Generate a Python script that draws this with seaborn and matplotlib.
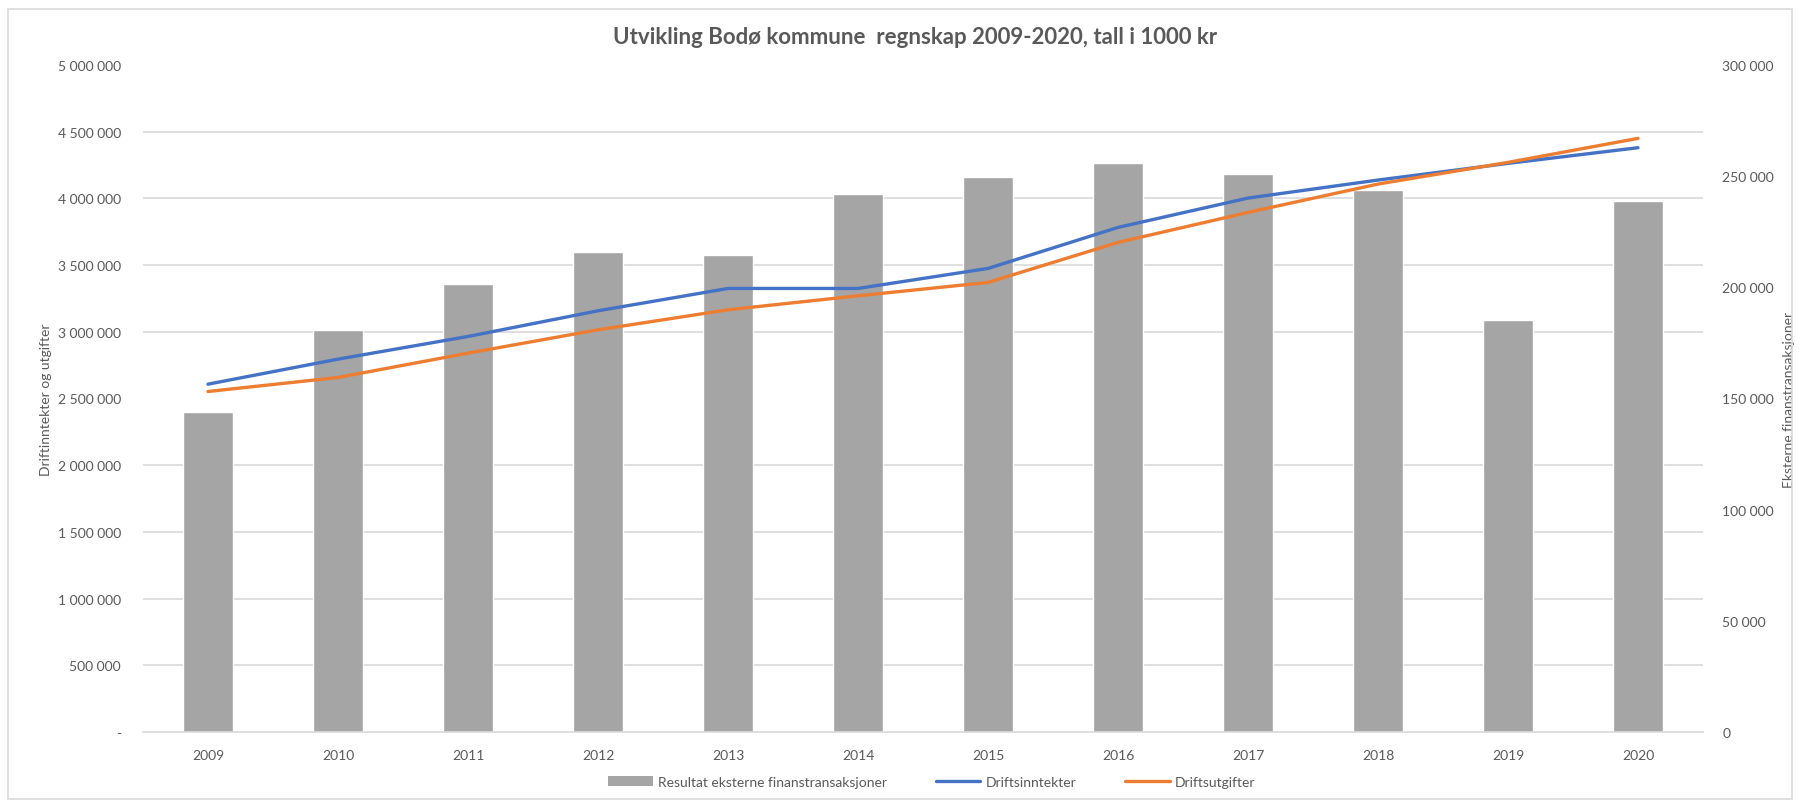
import numpy as np
import pandas as pd
import matplotlib
matplotlib.use("Agg")
import matplotlib.pyplot as plt
import seaborn as sns
from matplotlib.patches import Patch, Rectangle
from matplotlib.lines import Line2D
from matplotlib.ticker import FuncFormatter, MultipleLocator

years = ["2009", "2010", "2011", "2012", "2013", "2014", "2015", "2016", "2017", "2018", "2019", "2020"]
finans = [143800, 180900, 201500, 215900, 214400, 242100, 249800, 255800, 251000, 243900, 185400, 239000]
driftsinntekter = [2607500, 2795000, 2965000, 3157500, 3325000, 3325000, 3475000, 3782500, 4002500, 4137500, 4262500, 4380000]
driftsutgifter = [2552500, 2657500, 2840000, 3015000, 3165000, 3270000, 3370000, 3670000, 3895000, 4107500, 4270000, 4450000]

title = "Utvikling Bodø kommune  regnskap 2009-2020, tall i 1000 kr"
left_label = "Driftinntekter og utgifter"
right_label = "Eksterne finanstransaksjoner"
legend_labels = ["Resultat eksterne finanstransaksjoner", "Driftsinntekter", "Driftsutgifter"]

GRAY = "#A5A5A5"
BLUE = "#4472C4"
ORANGE = "#ED7D31"
TXT = "#595959"
GRID = "#D9D9D9"

sns.set_theme(style="white")
plt.rcParams["font.family"] = ["Lato", "DejaVu Sans"]

fig = plt.figure(figsize=(18, 8.04), dpi=100)
ax = fig.add_axes([143 / 1800, 71 / 804, 1560 / 1800, 667 / 804])

df = pd.DataFrame({"year": years, "finans": finans,
                   "inn": driftsinntekter, "ut": driftsutgifter})
df["pos"] = np.arange(len(years))

# bars on primary axis (drawn below), right-side scale
sns.barplot(data=df, x="year", y="finans", color=GRAY, saturation=1, width=0.39, ax=ax, zorder=2)

# lines on twin axis (drawn on top), left-side scale
ax2 = ax.twinx()
sns.lineplot(data=df, x="pos", y="inn", color=BLUE, linewidth=2.4, ax=ax2)
sns.lineplot(data=df, x="pos", y="ut", color=ORANGE, linewidth=2.4, ax=ax2)

# primary axis styling (right scale)
ax.set_ylim(0, 300000)
ax.set_xlim(-0.5, len(years) - 0.5)
ax.yaxis.tick_right()
ax.yaxis.set_label_position("right")
ax.yaxis.set_major_locator(MultipleLocator(50000))
ax.yaxis.set_minor_locator(MultipleLocator(30000))
ax.yaxis.set_major_formatter(FuncFormatter(lambda v, p: f"{int(v):,}".replace(",", " ")))
ax.grid(False)
ax.grid(True, which="minor", axis="y", color=GRID, linewidth=1.2, zorder=0)
ax.set_axisbelow(True)
ax.tick_params(axis="y", which="both", length=0, pad=14, labelsize=10, labelcolor=TXT,
               left=False, labelleft=False, right=True, labelright=True)
ax.tick_params(axis="x", length=0, pad=12, labelsize=10, labelcolor=TXT)
ax.set_xlabel("")
ax.set_ylabel(right_label, color=TXT, fontsize=10, labelpad=6, rotation=90)
for s in ["top", "left", "right"]:
    ax.spines[s].set_visible(False)
ax.spines["bottom"].set_color(GRID)
ax.spines["bottom"].set_linewidth(1.2)

# twin axis styling (left scale)
ax2.set_ylim(0, 5000000)
ax2.set_xlim(-0.5, len(years) - 0.5)
ax2.yaxis.tick_left()
ax2.yaxis.set_label_position("left")
ax2.yaxis.set_major_locator(MultipleLocator(500000))
ax2.yaxis.set_major_formatter(FuncFormatter(lambda v, p: "-" if v == 0 else f"{int(v):,}".replace(",", " ")))
ax2.grid(False)
ax2.tick_params(axis="y", length=0, pad=16, labelsize=10, labelcolor=TXT,
                left=True, labelleft=True, right=False, labelright=False)
ax2.set_ylabel(left_label, color=TXT, fontsize=10, labelpad=4)
ax2.set_xlabel("")
for s in ax2.spines.values():
    s.set_visible(False)

fig.text(915 / 1800, 1 - 37 / 804, title, ha="center", va="center",
         fontsize=16, fontweight="bold", color=TXT)

handles = [Patch(facecolor=GRAY, edgecolor="none"),
           Line2D([0], [0], color=BLUE, linewidth=2.4),
           Line2D([0], [0], color=ORANGE, linewidth=2.4)]
leg = fig.legend(handles, legend_labels, loc="center", bbox_to_anchor=(932 / 1800, 1 - 783 / 804),
                 ncol=3, frameon=False, fontsize=10, handlelength=3.2, columnspacing=3.5,
                 handletextpad=0.4)
for t in leg.get_texts():
    t.set_color(TXT)

fig.patches.append(Rectangle((8 / 1800, 4 / 804), 1 - 16 / 1800, 1 - 14 / 804,
                             transform=fig.transFigure, fill=False, edgecolor="#D9D9D9",
                             linewidth=1.2))

fig.savefig("out.png", dpi=100, facecolor="white")
